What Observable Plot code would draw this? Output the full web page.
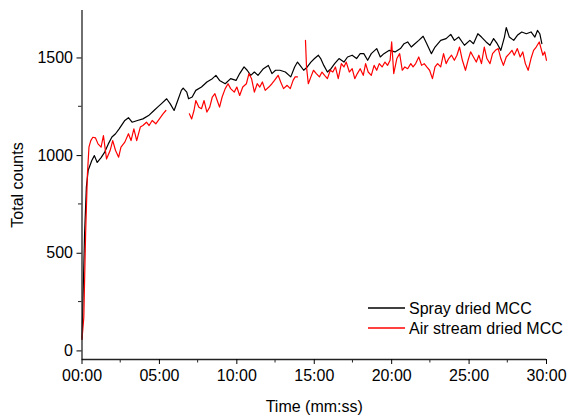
<!DOCTYPE html>
<html>
<head>
<meta charset="utf-8">
<script src="https://cdn.jsdelivr.net/npm/d3@7"></script>
<script src="https://cdn.jsdelivr.net/npm/@observablehq/plot@0.6"></script>
<style>
  html, body { margin: 0; padding: 0; background: #fff; }
  #chart { width: 571px; height: 416px; }
  svg { font-family: Arial, "Liberation Sans", sans-serif; }
</style>
</head>
<body>
<div id="chart"></div>
<script>
// Time in seconds, counts
const sprayTime = [0,10,17,24,38,48,59,74,88,102,116,130,144,166,180,194,215,236,258,279,293,307,328,342,357,371,385,392,406,413,427,441,463,484,505,519,533,555,576,597,611,628,640,654,668,682,703,722,736,750,767,788,809,824,835,845,859,873,887,901,916,925,937,951,965,979,996,1015,1029,1047,1064,1078,1092,1107,1121,1142,1156,1170,1191,1213,1234,1248,1262,1276,1290,1305,1322,1336,1354,1368,1390,1411,1429,1443,1460,1482,1503,1517,1534,1548,1566,1581,1595,1609,1623,1637,1644,1656,1673,1687,1704,1722,1740,1755,1765,1774,1782];
const sprayCounts = [60,600,840,925,975,1000,965,990,1018,1060,1095,1112,1137,1180,1194,1171,1180,1188,1205,1231,1248,1265,1291,1265,1231,1282,1334,1346,1325,1291,1300,1334,1351,1377,1394,1411,1385,1368,1394,1385,1420,1454,1437,1411,1428,1411,1445,1462,1420,1437,1437,1428,1403,1454,1479,1462,1437,1454,1479,1497,1514,1497,1462,1428,1445,1471,1497,1479,1505,1514,1497,1522,1522,1488,1522,1548,1505,1522,1539,1531,1548,1573,1582,1556,1573,1590,1611,1573,1522,1556,1590,1599,1621,1590,1607,1565,1590,1573,1624,1607,1582,1565,1599,1573,1539,1607,1656,1607,1590,1616,1633,1624,1633,1607,1641,1624,1573];

const airTime = [0,7,14,21,27,34,42,52,62,74,83,95,109,119,130,142,151,166,180,190,201,212,226,236,250,260,272,286,300,314,325,
  370,
  416,425,434,441,453,463,473,484,495,505,515,524,533,543,555,566,576,590,600,611,623,637,647,657,668,679,689,699,710,724,736,746,760,770,781,795,807,818,826,835,
  850,
  866,870,877,887,897,908,920,930,940,951,962,972,982,993,1005,1015,1024,1036,1047,1057,1067,1078,1090,1099,1109,1121,1132,1142,1152,1163,1174,1184,1194,1200,1208,1220,1231,1241,1251,1262,1274,1283,1293,1305,1316,1326,1336,1347,1358,1368,1378,1390,1401,1411,1421,1432,1443,1453,1463,1474,1486,1496,1506,1517,1528,1538,1548,1559,1569,1581,1591,1602,1613,1623,1633,1644,1656,1666,1675,1687,1698,1708,1718,1729,1740,1750,1760,1772,1779,1786,1793,1800];
const airCounts = [60,171,600,906,1043,1077,1094,1091,1060,1043,1103,983,1026,1077,1026,992,1043,1069,1112,1077,1137,1077,1146,1154,1171,1154,1180,1163,1188,1214,1231,
  null,
  1214,1188,1231,1282,1248,1240,1282,1223,1248,1300,1317,1282,1248,1300,1343,1368,1343,1325,1351,1308,1351,1368,1420,1394,1325,1368,1351,1377,1334,1351,1368,1385,1411,1377,1343,1360,1343,1385,1403,1403,
  null,
  1590,1454,1368,1403,1437,1420,1403,1428,1411,1394,1437,1428,1454,1394,1471,1454,1479,1428,1445,1394,1420,1445,1411,1471,1428,1411,1462,1437,1471,1454,1479,1462,1488,1582,1420,1497,1522,1437,1454,1445,1471,1454,1471,1505,1462,1471,1454,1437,1394,1454,1471,1454,1522,1471,1497,1514,1488,1514,1556,1488,1437,1488,1531,1505,1479,1514,1471,1556,1497,1471,1522,1539,1548,1497,1462,1505,1522,1539,1514,1548,1505,1531,1471,1437,1497,1539,1556,1582,1548,1514,1531,1488];

const xTicks = [0, 300, 600, 900, 1200, 1500, 1800];
const xMinorTicks = [150, 450, 750, 1050, 1350, 1650];
const yTicks = [0, 500, 1000, 1500];
const yMinorTicks = [250, 750, 1250];
const seriesNames = ["Spray dried MCC", "Air stream dried MCC"];
const seriesColors = ["#000000", "#ff0000"];
const yDomain = [-44, 1743];

const spray = sprayTime.map((t, i) => ({t, v: sprayCounts[i]}));
const air = airTime.map((t, i) => ({t, v: airCounts[i]}));

const fmt = d => String(Math.floor(d / 60)).padStart(2, "0") + ":" + String(d % 60).padStart(2, "0");

const plot = Plot.plot({
  width: 571,
  height: 416,
  marginLeft: 81.5,
  marginRight: 25,
  marginTop: 10,
  marginBottom: 57,
  style: {fontSize: "16px", fontFamily: "Arial, 'Liberation Sans', sans-serif", color: "#000", background: "#fff"},
  x: {domain: [0, 1800]},
  y: {domain: yDomain},
  marks: [
    Plot.line(spray, {x: "t", y: "v", stroke: seriesColors[0], strokeWidth: 1.2}),
    Plot.line(air, {x: "t", y: "v", stroke: seriesColors[1], strokeWidth: 1.2}),
    Plot.ruleX([0], {stroke: "#222", strokeWidth: 1.3}),
    Plot.ruleY([yDomain[0]], {stroke: "#222", strokeWidth: 1.3}),
    Plot.axisX({ticks: xTicks, tickFormat: fmt, tickSize: 5, tickPadding: 5, fontSize: 16,
      label: "Time (mm:ss)", labelAnchor: "center", labelArrow: "none", labelOffset: 52}),
    Plot.axisY({ticks: yTicks, tickFormat: d => String(d), tickSize: 5, tickPadding: 4, fontSize: 16,
      label: "Total counts", labelAnchor: "center", labelArrow: "none", labelOffset: 70})
  ]
});

document.getElementById("chart").appendChild(plot);

// minor ticks via scales
const svg = d3.select(plot);
const xs = plot.scale("x"), ys = plot.scale("y");
const yBottom = ys.apply(yDomain[0]);
const x0 = xs.apply(0);
const minor = svg.append("g").attr("stroke", "#222").attr("stroke-width", 1);
xMinorTicks.forEach(d => {
  minor.append("line").attr("x1", xs.apply(d)).attr("x2", xs.apply(d))
    .attr("y1", yBottom).attr("y2", yBottom + 3.5);
});
yMinorTicks.forEach(d => {
  minor.append("line").attr("y1", ys.apply(d)).attr("y2", ys.apply(d))
    .attr("x1", x0 - 3.5).attr("x2", x0);
});

// legend
const lg = svg.append("g").attr("font-size", 16).attr("text-anchor", "start")
  .attr("font-family", "Arial, 'Liberation Sans', sans-serif");
seriesNames.forEach((name, i) => {
  const y = 308 + i * 20;
  lg.append("line").attr("x1", 368).attr("x2", 405).attr("y1", y).attr("y2", y)
    .attr("stroke", seriesColors[i]).attr("stroke-width", 1.3);
  lg.append("text").attr("x", 409).attr("y", y).attr("dy", "0.35em").attr("fill", "#000").text(name);
});
</script>
</body>
</html>
